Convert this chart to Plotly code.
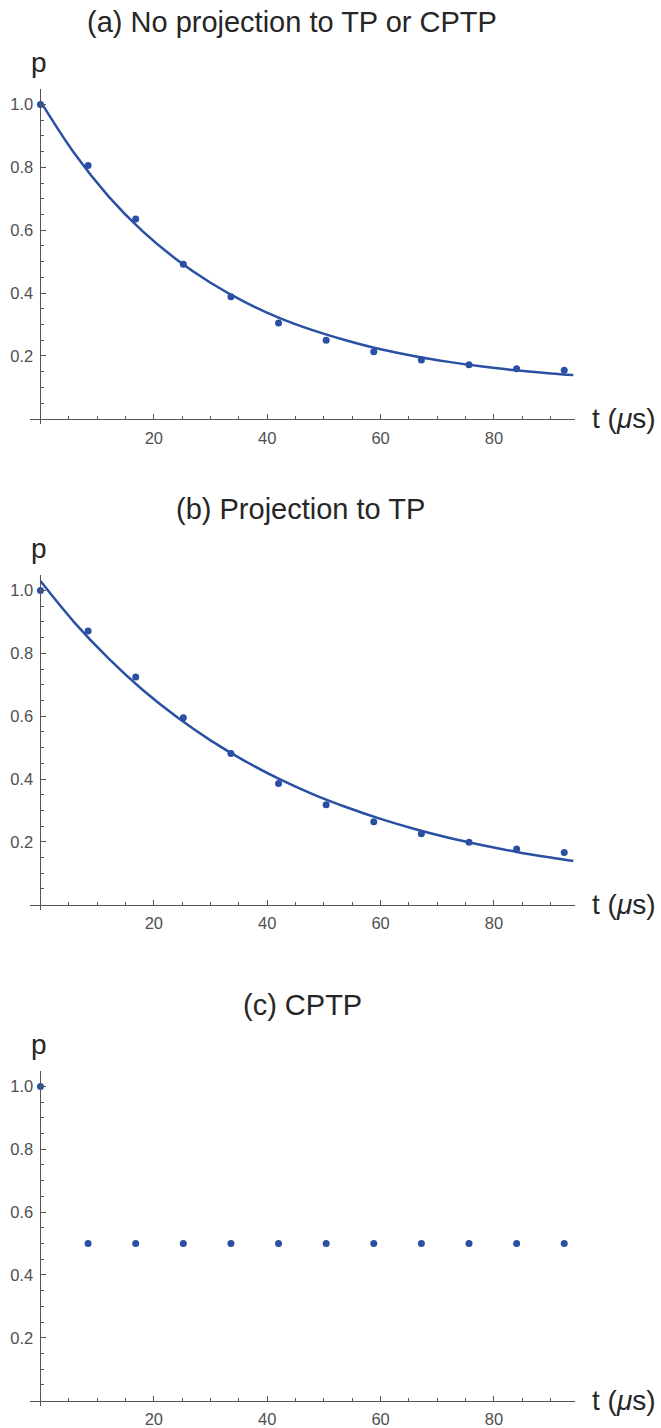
import plotly.graph_objects as go

# ---------------- data ----------------
t = [0.0, 8.4, 16.8, 25.2, 33.6, 42.0, 50.4, 58.8, 67.2, 75.6, 84.0, 92.4]
p_a = [1.0, 0.806, 0.636, 0.492, 0.388, 0.305, 0.25, 0.213, 0.187, 0.172, 0.159, 0.154]
p_b = [1.0, 0.871, 0.725, 0.595, 0.481, 0.386, 0.318, 0.264, 0.226, 0.199, 0.177, 0.166]
p_c = [1.0, 0.5, 0.5, 0.5, 0.5, 0.5, 0.5, 0.5, 0.5, 0.5, 0.5, 0.5]

# fitted curves
t_fit = [0, 6, 12, 18, 24, 30, 36, 42, 48, 54, 60, 66, 72, 78, 84, 90, 94]
fit_a = [1.010, 0.844, 0.708, 0.597, 0.507, 0.433, 0.372, 0.322, 0.282, 0.249,
         0.221, 0.199, 0.181, 0.166, 0.154, 0.144, 0.139]
fit_b = [1.030, 0.898, 0.784, 0.684, 0.598, 0.523, 0.458, 0.401, 0.352, 0.310,
         0.273, 0.241, 0.213, 0.189, 0.168, 0.150, 0.139]

titles = ["(a) No projection to TP or CPTP", "(b) Projection to TP", "(c) CPTP"]
x_ticks = [20, 40, 60, 80]
x_minor = [5, 10, 15, 25, 30, 35, 45, 50, 55, 65, 70, 75, 85, 90]
y_ticks = [0.2, 0.4, 0.6, 0.8, 1.0]
y_tick_text = ["0.2", "0.4", "0.6", "0.8", "1.0"]
y_minor = [0.05, 0.1, 0.15, 0.25, 0.3, 0.35, 0.45, 0.5, 0.55, 0.65, 0.7, 0.75,
           0.85, 0.9, 0.95, 1.05]

# ---------------- layout helpers ----------------
W, H = 661, 1428
BLUE = "#2a50a3"
AXC = "#555555"
TXT = "#262626"
FONT = "Liberation Sans, Arial, sans-serif"


def px(x):
    return x / W


def py(y):
    return 1 - y / H


X_LEFT, X_RIGHT = 30.0, 575.0
XR = [-1.85, 94.3]
Y_SCALE = 315.5
YR = [-0.016, 1.05]
y0_pix = [420.5, 908.5, 1406.5]
title_pos = [(292, 22), (300, 511), (302, 1009)]
p_pos = [(39, 63), (39, 551), (39, 1049)]

x0_pix = X_LEFT + (0 - XR[0]) / (XR[1] - XR[0]) * (X_RIGHT - X_LEFT)

fig = go.Figure()
series = [p_a, p_b, p_c]
fits = [fit_a, fit_b, None]

layout = dict(
    width=W, height=H,
    margin=dict(l=0, r=0, t=0, b=0),
    paper_bgcolor="white", plot_bgcolor="white",
    showlegend=False,
    font=dict(family=FONT, color=TXT),
)
annotations = []

for i in range(3):
    n = "" if i == 0 else str(i + 1)
    xa, ya = "x" + n, "y" + n
    if fits[i] is not None:
        fig.add_trace(go.Scatter(x=t_fit, y=fits[i], mode="lines",
                                 line=dict(color=BLUE, width=2.5, shape="spline"),
                                 xaxis=xa, yaxis=ya, hoverinfo="skip"))
    fig.add_trace(go.Scatter(x=t, y=series[i], mode="markers",
                             marker=dict(color=BLUE, size=7),
                             xaxis=xa, yaxis=ya))
    top = y0_pix[i] - YR[1] * Y_SCALE
    bot = y0_pix[i] - YR[0] * Y_SCALE
    layout["xaxis" + n] = dict(
        domain=[px(X_LEFT), px(X_RIGHT)], range=XR, anchor="free",
        position=py(y0_pix[i]),
        showline=True, linecolor=AXC, linewidth=1,
        showgrid=False, zeroline=False,
        tickmode="array", tickvals=x_ticks, ticktext=[str(v) for v in x_ticks],
        ticks="inside", ticklen=5, tickcolor=AXC, tickwidth=1,
        tickfont=dict(family=FONT, size=16.5, color="#505050"),
        ticklabelstandoff=4,
        minor=dict(tickvals=x_minor, ticks="inside", ticklen=3, tickcolor=AXC, tickwidth=1),
    )
    layout["yaxis" + n] = dict(
        domain=[py(bot), py(top)], range=YR, anchor="free",
        position=px(x0_pix),
        showline=True, linecolor=AXC, linewidth=1,
        showgrid=False, zeroline=False,
        tickmode="array", tickvals=y_ticks, ticktext=y_tick_text,
        ticks="inside", ticklen=5, tickcolor=AXC, tickwidth=1,
        tickfont=dict(family=FONT, size=16.5, color="#505050"),
        ticklabelstandoff=4,
        minor=dict(tickvals=y_minor, ticks="inside", ticklen=3, tickcolor=AXC, tickwidth=1),
    )
    annotations.append(dict(text=titles[i], x=px(title_pos[i][0]), y=py(title_pos[i][1]),
                            xref="paper", yref="paper", showarrow=False,
                            xanchor="center", yanchor="middle",
                            font=dict(family=FONT, size=29, color=TXT)))
    annotations.append(dict(text="p", x=px(p_pos[i][0]), y=py(p_pos[i][1]),
                            xref="paper", yref="paper", showarrow=False,
                            xanchor="center", yanchor="middle",
                            font=dict(family=FONT, size=28, color=TXT)))
    annotations.append(dict(text="t (<i>μ</i>s)", x=px(590), y=py(y0_pix[i]),
                            xref="paper", yref="paper", showarrow=False,
                            xanchor="left", yanchor="middle",
                            font=dict(family=FONT, size=28, color=TXT)))

layout["annotations"] = annotations
fig.update_layout(**layout)
fig.write_html(
    "out.html",
    config={"displayModeBar": False},
    post_script="document.body.style.margin='0px';document.body.style.padding='0px';"
                "document.documentElement.style.overflow='hidden';",
)
